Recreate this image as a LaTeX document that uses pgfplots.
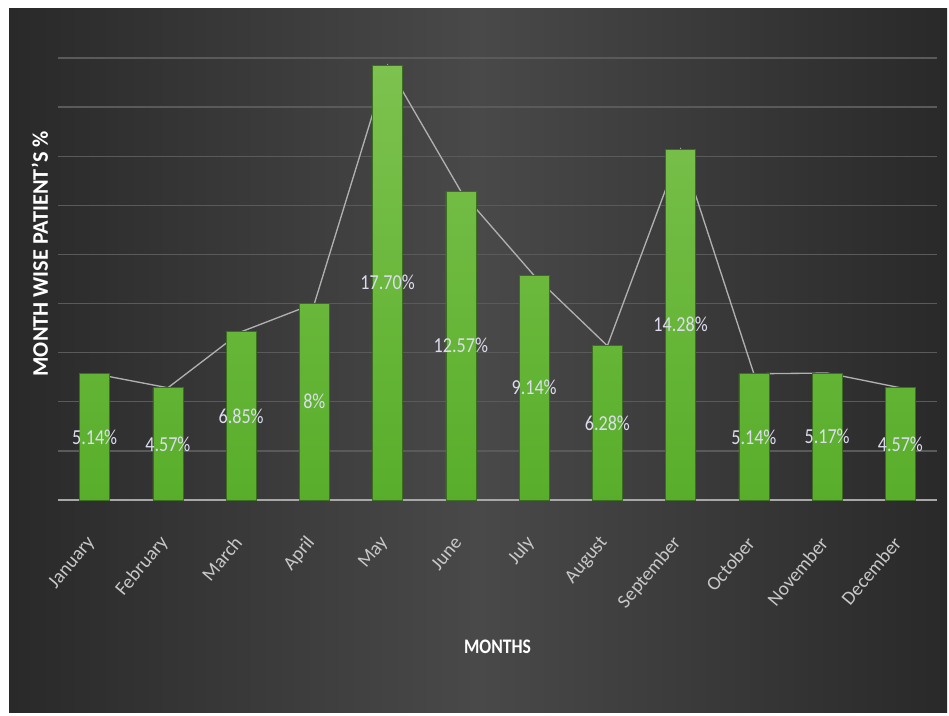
\documentclass[border=0pt]{standalone}
\usepackage{fontspec}
\setmainfont{Carlito}
\newfontfamily\narrowfont[FakeStretch=0.85]{Carlito}
\usepackage{pgfplots}
\usepackage{pgfplotstable}
\pgfplotsset{compat=1.18}
\definecolor{bgin}{HTML}{494949}
\definecolor{bgout}{HTML}{292929}
\definecolor{gridc}{HTML}{5A5A5A}
\definecolor{basec}{HTML}{A8A8A8}
\definecolor{linec}{HTML}{B0B0B0}
\definecolor{bartop}{HTML}{7DC24F}
\definecolor{barbot}{HTML}{58AE2A}
\definecolor{baredge}{HTML}{3C6E22}
\definecolor{labc}{HTML}{DCDCEE}
\definecolor{tickc}{HTML}{C8C8C8}

\pgfplotstableread{
x v lab
0 5.14 5.14\%
1 4.57 4.57\%
2 6.85 6.85\%
3 8.00 8\%
4 17.70 17.70\%
5 12.57 12.57\%
6 9.14 9.14\%
7 6.28 6.28\%
8 14.28 14.28\%
9 5.14 5.14\%
10 5.17 5.17\%
11 4.57 4.57\%
}\data

\begin{document}
\begin{tikzpicture}
\fill[white] (0pt,0pt) rectangle (711.75pt,536.25pt);
\shade[left color=bgout, right color=bgout, middle color=bgin] (6.75pt,2.25pt) rectangle (710.25pt,529.5pt);
\begin{axis}[
  at={(43.5pt,161.25pt)}, anchor=south west,
  scale only axis, width=659.25pt, height=331.5pt,
  xmin=-0.5, xmax=11.5, ymin=0, ymax=18,
  axis line style={draw=none},
  major tick length=0pt,
  ytick={2,4,...,18}, yticklabels={},
  ymajorgrids, grid style={draw=gridc, line width=1pt},
  extra y ticks={0}, extra y tick labels={},
  extra y tick style={grid style={draw=basec, line width=1.5pt}},
  xtick={0,...,11},
  xticklabels={January,February,March,April,May,June,July,August,September,October,November,December},
  xticklabel style={font=\fontsize{14.5}{16}\selectfont, text=tickc, rotate=50, anchor=east},
  xticklabel shift=27pt,
  xlabel={MONTHS},
  xlabel style={at={(rel axis cs:0.5,-0.333)}, anchor=center, font=\narrowfont\bfseries\fontsize{15.5}{18}\selectfont, text=white},
  ylabel={MONTH WISE PATIENT'S \%},
  ylabel style={at={(rel axis cs:-0.006,0.557)}, anchor=south, font=\bfseries\fontsize{16.7}{20}\selectfont, text=white},
  clip=false,
]
\addplot[draw=linec, line width=1pt, mark=none] table[x=x,y=v]{\data};
\addplot[ybar, bar width=0.41, bar shift=0pt, draw=baredge, line width=0.5pt, top color=bartop, bottom color=barbot] table[x=x,y=v]{\data};
\addplot[draw=none, mark=none, nodes near coords, point meta=explicit symbolic,
  every node near coord/.append style={anchor=center, text=labc, font=\narrowfont\fontsize{16}{18}\selectfont}]
  table[x=x, y expr=\thisrow{v}/2, meta=lab]{\data};
\end{axis}
\pgfresetboundingbox
\useasboundingbox (0pt,0pt) rectangle (711.75pt,536.25pt);
\end{tikzpicture}
\end{document}
